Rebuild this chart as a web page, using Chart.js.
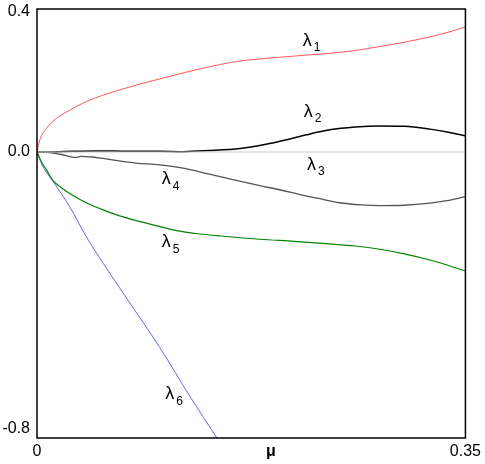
<!DOCTYPE html>
<html>
<head>
<meta charset="utf-8">
<script src="https://cdn.jsdelivr.net/npm/chart.js@4"></script>
<style>
  body { margin: 0; background: #fff; }
  #wrap { width: 485px; height: 464px; position: relative; }
</style>
</head>
<body>
<div id="wrap"><canvas id="lyapChart"></canvas></div>
<script>
// ====== datos ======
const mu1 = [0, 0.0023, 0.0077, 0.0159, 0.0267, 0.0403, 0.054, 0.081, 0.108, 0.135, 0.163, 0.198, 0.22, 0.239, 0.26, 0.28, 0.3, 0.321, 0.335, 0.35];
const lam1 = [0, 0.034, 0.066, 0.094, 0.117, 0.141, 0.159, 0.187, 0.211, 0.234, 0.253, 0.265, 0.271, 0.276, 0.284, 0.295, 0.307, 0.322, 0.334, 0.35];

const mu2 = [0, 0.01, 0.03, 0.05, 0.075, 0.1, 0.12, 0.14, 0.166, 0.185, 0.204, 0.22, 0.239, 0.26, 0.28, 0.3, 0.321, 0.335, 0.35];
const lam2 = [0, 0, 0.002, 0.003, 0.002, 0.002, 0.001, 0.004, 0.01, 0.02, 0.034, 0.048, 0.062, 0.07, 0.073, 0.072, 0.064, 0.056, 0.045];

const mu3 = [0, 0.35];
const lam3 = [0, 0];

const mu4 = [0, 0.01, 0.02, 0.032, 0.036, 0.045, 0.054, 0.067, 0.081, 0.1, 0.117, 0.14, 0.16, 0.182, 0.2, 0.215, 0.23, 0.247, 0.265, 0.28, 0.3, 0.321, 0.335, 0.35];
const lam4 = [0, -0.002, -0.007, -0.015, -0.012, -0.014, -0.018, -0.025, -0.031, -0.036, -0.044, -0.061, -0.077, -0.094, -0.107, -0.119, -0.13, -0.142, -0.148, -0.15, -0.149, -0.143, -0.136, -0.125];

const mu5 = [0, 0.004, 0.0077, 0.0132, 0.02, 0.0267, 0.0403, 0.054, 0.067, 0.081, 0.1, 0.114, 0.13, 0.15, 0.182, 0.21, 0.239, 0.26, 0.28, 0.3, 0.321, 0.335, 0.35];
const lam5 = [0, -0.03, -0.05, -0.08, -0.1, -0.116, -0.142, -0.162, -0.178, -0.192, -0.208, -0.22, -0.228, -0.235, -0.244, -0.25, -0.257, -0.263, -0.272, -0.285, -0.302, -0.316, -0.333];

const mu6 = [0, 0.004, 0.008, 0.0132, 0.0267, 0.0403, 0.054, 0.073, 0.1, 0.125, 0.147, 0.155];
const lam6 = [0, -0.035, -0.058, -0.083, -0.153, -0.237, -0.311, -0.408, -0.545, -0.684, -0.8, -0.842];

// ticks
const xTicks = [0, 0.191, 0.35];
const xTickLabels = ['0', 'μ', '0.35'];
const yTicks = [-0.8, 0, 0.4];
const yTickLabels = ['-0.8', '0.0', '0.4'];

// etiquetas lambda (posicion en unidades de datos)
const labelSubs = ['1', '2', '3', '4', '5', '6'];
const labelMu = [0.217, 0.218, 0.2205, 0.102, 0.102, 0.1047];
const labelLam = [0.31, 0.112, -0.036, -0.077, -0.253, -0.678];

const FONT = "'Liberation Sans', Arial, sans-serif";

function pts(xs, ys) {
    return xs.map((x, i) => ({ x: x, y: ys[i] }));
}

function serie(xs, ys, color, width) {
    return {
        data: pts(xs, ys),
        borderColor: color,
        borderWidth: width,
        pointRadius: 0,
        fill: false,
        cubicInterpolationMode: 'monotone',
        showLine: true
    };
}

// marco negro alrededor del area
const framePlugin = {
    id: 'frame',
    afterDatasetsDraw(chart) {
        const a = chart.chartArea;
        const ctx = chart.ctx;
        ctx.save();
        ctx.strokeStyle = '#000';
        ctx.lineWidth = 1.5;
        ctx.strokeRect(a.left, a.top, a.right - a.left, a.bottom - a.top);
        ctx.restore();
    }
};

// etiquetas del eje y, las de los extremos quedan dentro del marco
const yLabelPlugin = {
    id: 'yLabels',
    afterDraw(chart) {
        const a = chart.chartArea;
        const ys = chart.scales.y;
        const ctx = chart.ctx;
        ctx.save();
        ctx.fillStyle = '#000';
        ctx.font = '16px ' + FONT;
        ctx.textAlign = 'right';
        ctx.textBaseline = 'middle';
        yTicks.forEach((v, i) => {
            let py = ys.getPixelForValue(v);
            py = Math.min(Math.max(py, a.top + 3), a.bottom - 9);
            ctx.fillText(yTickLabels[i], a.left - 7, py);
        });
        ctx.restore();
    }
};

// lambda_i junto a cada curva
const lambdaPlugin = {
    id: 'lambdas',
    afterDatasetsDraw(chart) {
        const ctx = chart.ctx;
        const xs = chart.scales.x, ys = chart.scales.y;
        ctx.save();
        ctx.fillStyle = '#000';
        ctx.textBaseline = 'middle';
        ctx.textAlign = 'left';
        labelSubs.forEach((s, i) => {
            const px = xs.getPixelForValue(labelMu[i]);
            const py = ys.getPixelForValue(labelLam[i]);
            ctx.font = '18px ' + FONT;
            ctx.fillText('λ', px, py);
            const w = ctx.measureText('λ').width;
            ctx.font = '12px ' + FONT;
            ctx.fillText(s, px + w + 2, py + 7);
        });
        ctx.restore();
    }
};

const canvas = document.getElementById('lyapChart');

new Chart(canvas.getContext('2d'), {
    type: 'scatter',
    data: {
        datasets: [
            serie(mu3, lam3, 'rgb(200,200,200)', 1),
            serie(mu1, lam1, 'rgb(255,85,85)', 1),
            serie(mu4, lam4, 'rgb(85,85,85)', 1.3),
            serie(mu2, lam2, 'rgb(0,0,0)', 1.5),
            serie(mu5, lam5, 'rgb(0,130,0)', 1.2),
            serie(mu6, lam6, 'rgb(100,100,255)', 1)
        ]
    },
    options: {
        responsive: true,
        maintainAspectRatio: false,
        animation: false,
        layout: { padding: { top: 9, right: 19, left: 0, bottom: 0 } },
        plugins: {
            legend: { display: false },
            tooltip: { enabled: false }
        },
        scales: {
            x: {
                type: 'linear',
                min: 0,
                max: 0.35,
                grid: { display: false, drawTicks: false },
                border: { display: false },
                afterBuildTicks: (s) => { s.ticks = xTicks.map(v => ({ value: v })); },
                afterFit: (s) => { s.height = 26; },
                ticks: {
                    color: '#000',
                    padding: 4,
                    maxRotation: 0,
                    autoSkip: false,
                    font: (c) => ({ family: FONT, size: 16, weight: c.index === 1 ? 'bold' : 'normal' }),
                    callback: (v, i) => xTickLabels[i]
                }
            },
            y: {
                min: -0.8,
                max: 0.4,
                grid: { display: false, drawTicks: false },
                border: { display: false },
                afterBuildTicks: (s) => { s.ticks = yTicks.map(v => ({ value: v })); },
                afterFit: (s) => { s.width = 37; },
                ticks: { display: false }
            }
        }
    },
    plugins: [framePlugin, yLabelPlugin, lambdaPlugin]
});
</script>
</body>
</html>
